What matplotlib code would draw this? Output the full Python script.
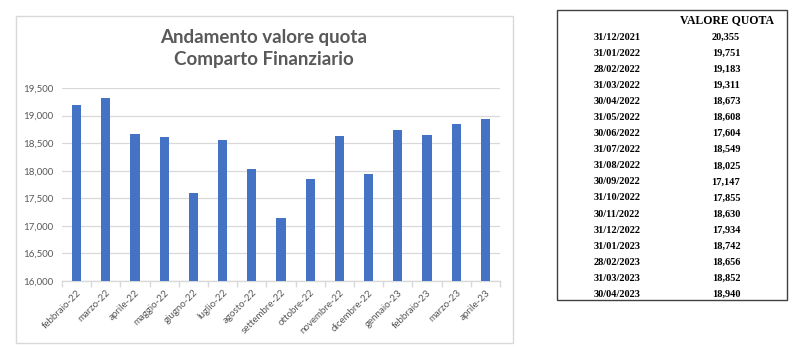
import matplotlib
matplotlib.use("Agg")
import matplotlib.pyplot as plt
from matplotlib.patches import Rectangle
from matplotlib.ticker import FuncFormatter, MultipleLocator

categories = ["febbraio-22", "marzo-22", "aprile-22", "maggio-22", "giugno-22", "luglio-22",
              "agosto-22", "settembre-22", "ottobre-22", "novembre-22", "dicembre-22",
              "gennaio-23", "febbraio-23", "marzo-23", "aprile-23"]
values = [19183, 19311, 18673, 18608, 17604, 18549, 18025, 17147, 17855, 18630,
          17934, 18742, 18656, 18852, 18940]

table_dates = ["31/12/2021", "31/01/2022", "28/02/2022", "31/03/2022", "30/04/2022",
               "31/05/2022", "30/06/2022", "31/07/2022", "31/08/2022", "30/09/2022",
               "31/10/2022", "30/11/2022", "31/12/2022", "31/01/2023", "28/02/2023",
               "31/03/2023", "30/04/2023"]
table_values = ["20,355", "19,751", "19,183", "19,311", "18,673", "18,608", "17,604",
                "18,549", "18,025", "17,147", "17,855", "18,630", "17,934", "18,742",
                "18,656", "18,852", "18,940"]

W, H = 800, 347
fig = plt.figure(figsize=(W / 100, H / 100), dpi=100)
fig.patch.set_facecolor("white")

def fx(px):
    return px / W

def fy(py):
    return 1 - py / H

# chart frame
fig.patches.append(Rectangle((fx(16), fy(343)), fx(497), (343 - 16) / H,
                             transform=fig.transFigure, fill=False,
                             edgecolor="#D9D9D9", lw=1.0))

ax_left, ax_right, ax_top, ax_bottom = 62, 500, 88, 281
ax = fig.add_axes([fx(ax_left), fy(ax_bottom), (ax_right - ax_left) / W, (ax_bottom - ax_top) / H])
x = list(range(len(categories)))
ax.bar(x, values, width=0.31, color="#4472C4", zorder=3)
ax.set_ylim(16000, 19500)
ax.set_xlim(-0.5, len(categories) - 0.5)
ax.yaxis.set_major_locator(MultipleLocator(500))
ax.yaxis.set_major_formatter(FuncFormatter(lambda v, p: f"{int(v):,}"))
ax.grid(axis="y", color="#D9D9D9", lw=0.9, zorder=0)
for s in ["top", "right", "left"]:
    ax.spines[s].set_visible(False)
ax.spines["bottom"].set_color("#D9D9D9")
ax.spines["bottom"].set_linewidth(1.0)
ax.tick_params(axis="y", length=0, labelsize=7, labelcolor="#595959", pad=6)
ax.set_xticks(x)
ax.set_xticklabels(categories, rotation=45, ha="right", rotation_mode="anchor",
                   fontsize=7, color="#595959")
ax.tick_params(axis="x", length=0, pad=5)
ax.set_xticks([i + 0.5 for i in range(-1, len(categories))], minor=True)
ax.tick_params(axis="x", which="minor", length=4, color="#D9D9D9", width=1.0)
for lbl in ax.get_yticklabels() + ax.get_xticklabels():
    lbl.set_family(["Lato", "DejaVu Sans"])

fig.text(fx(264), fy(38), "Andamento valore quota", ha="center", va="center",
         fontsize=13.5, fontweight="bold", color="#595959", family=["Lato", "DejaVu Sans"])
fig.text(fx(264), fy(60), "Comparto Finanziario", ha="center", va="center",
         fontsize=13.5, fontweight="bold", color="#595959", family=["Lato", "DejaVu Sans"])

# table
fig.patches.append(Rectangle((fx(557), fy(300)), fx(230), (300 - 10) / H,
                             transform=fig.transFigure, fill=False,
                             edgecolor="#404040", lw=1.0))
fig.text(fx(727), fy(20), "VALORE QUOTA", ha="center", va="center", fontsize=8.5,
         fontweight="bold", family="Liberation Serif", color="black")
row0, dy = 37, 16.1
for i, (d, v) in enumerate(zip(table_dates, table_values)):
    yy = fy(row0 + i * dy)
    fig.text(fx(617), yy, d, ha="center", va="center", fontsize=7.5,
             fontweight="bold", family="Liberation Serif", color="black")
    fig.text(fx(726), yy, v, ha="center", va="center", fontsize=7.5,
             fontweight="bold", family="Liberation Serif", color="black")

fig.savefig("out.png", dpi=100)
